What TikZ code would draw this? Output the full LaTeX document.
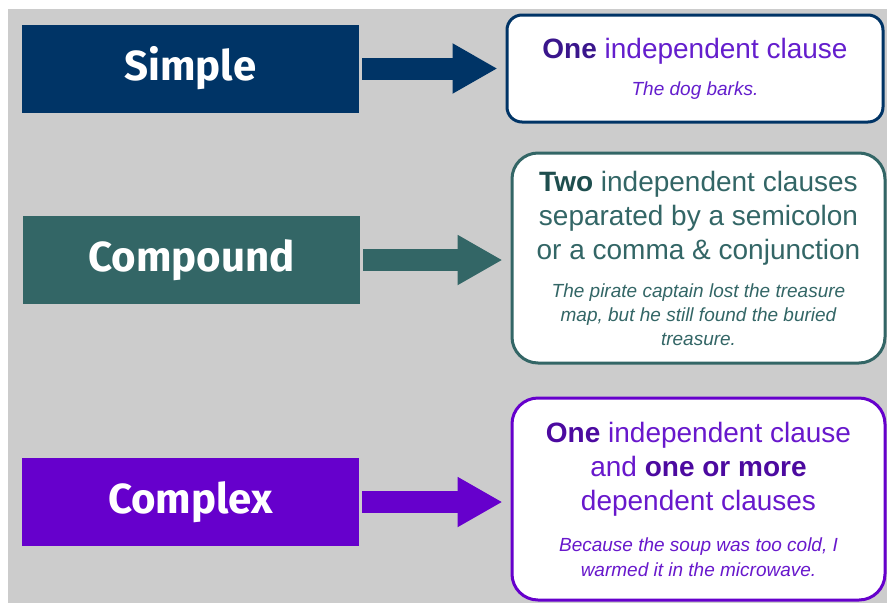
\documentclass[tikz,border=0pt]{standalone}
\usepackage{fontspec}
\setmainfont{Liberation Sans}
\newfontfamily\etiq{Fira Sans}
\usetikzlibrary{arrows.meta}
\definecolor{fond}{RGB}{204,204,204}
\definecolor{marine}{RGB}{0,52,102}
\definecolor{sarcelle}{RGB}{51,102,102}
\definecolor{violette}{RGB}{102,0,204}
\definecolor{encreA}{RGB}{58,22,140}
\definecolor{encreB}{RGB}{30,78,78}
\definecolor{encreC}{RGB}{76,10,160}
\definecolor{texteA}{RGB}{100,30,205}
\definecolor{texteC}{RGB}{104,24,204}
\newcommand{\ex}{\fontsize{19}{24}\selectfont\itshape}
\tikzset{etiquette/.style={fill=#1, minimum width=337pt, minimum height=88pt,
    text=white, font=\etiq\bfseries\fontsize{42}{50}\selectfont},
  defi/.style={draw=#1, line width=3pt, fill=white, rounded corners=26pt,
    align=center, font=\fontsize{28}{34}\selectfont},
  fleche/.style={draw=#1, line width=22pt, -{Triangle[length=45pt,width=47pt]},
    shorten <=3pt, shorten >=8pt}}

\begin{document}
\begin{tikzpicture}[x=1pt,y=-1pt]
  % fond
  \useasboundingbox (0,0) rectangle (887,603);
  \fill[white] (0,0) rectangle (887,603);
  \fill[fond] (8,9) rectangle (887,603);
  % simple
  \node[etiquette=marine] (simple) at (190.5,68.5) {Simple};
  \node[defi=marine, rounded corners=15pt, minimum width=376pt,
    minimum height=107pt, text=texteA] (def1) at (695,68.5)
    {\textbf{\color{encreA}One} independent clause\\[3pt]
     \ex The dog barks.};
  \draw[fleche=marine] (simple.east) -- (def1.west);
  % compound
  \node[etiquette=sarcelle] (compound) at (191.5,260) {Compound};
  \node[defi=sarcelle, minimum width=373pt, minimum height=210pt,
    text=sarcelle] (def2) at (698.5,258)
    {\textbf{\color{encreB}Two} independent clauses\\
     separated by a semicolon\\
     or a comma \& conjunction\\[4pt]
     \ex The pirate captain lost the treasure\\[-10pt]
     \ex map, but he still found the buried\\[-10pt]
     \ex treasure.};
  \draw[fleche=sarcelle] (compound.east) -- (compound.east -| def2.west);
  % complex
  \node[etiquette=violette] (complex) at (190.5,502) {Complex};
  \node[defi=violette, minimum width=373pt, minimum height=202pt,
    text=texteC] (def3) at (698.5,499)
    {\textbf{\color{encreC}One} independent clause\\
     and \textbf{\color{encreC}one or more}\\
     dependent clauses\\[7pt]
     \ex Because the soup was too cold, I\\[-9pt]
     \ex warmed it in the microwave.};
  \draw[fleche=violette] (complex.east) -- (complex.east -| def3.west);
\end{tikzpicture}
\end{document}
